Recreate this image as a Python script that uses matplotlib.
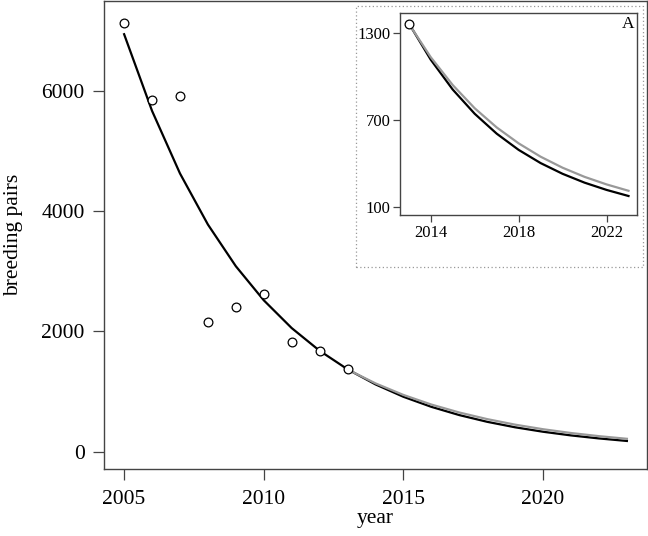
import matplotlib.pyplot as plt
from matplotlib.patches import Rectangle

plt.rcParams['font.family'] = ['Liberation Serif', 'DejaVu Serif']

# observed counts
obs_years = [2005, 2006, 2007, 2008, 2009, 2010, 2011, 2012, 2013]
obs_pairs = [7126, 5844, 5904, 2162, 2405, 2620, 1819, 1670, 1366]

# fitted trend (black) at each year
fit_years = list(range(2005, 2024))
fit_pairs = [6938, 5664, 4624, 3775, 3082, 2516, 2054, 1677, 1369, 1118,
             912, 745, 608, 496, 405, 331, 270, 220, 178]

# projection from 2013 (grey)
proj_years = list(range(2013, 2024))
proj_pairs = [1366, 1135, 943, 783, 651, 541, 449, 373, 310, 258, 214]

frame_col = '#444444'
grey = '#999999'

fig = plt.figure(figsize=(6.48, 5.36), dpi=100)

# main panel
ax = fig.add_axes([104/648, 67/536, 543/648, 468/536])
ax.plot(fit_years, fit_pairs, color='black', lw=1.6, zorder=2)
ax.plot(proj_years, proj_pairs, color=grey, lw=1.6, zorder=3)
ax.plot(obs_years, obs_pairs, 'o', mfc='white', mec='black', mew=0.9, ms=6.3, zorder=4)
ax.set_xlim(2004.28, 2023.72)
ax.set_ylim(-288, 7490)
ax.set_xticks([2005, 2010, 2015, 2020])
ax.set_yticks([0, 2000, 4000, 6000])
ax.tick_params(direction='out', length=8, width=0.9, color=frame_col,
               labelsize=15.5, pad=6)
ax.tick_params(axis='x', pad=7)
for s in ax.spines.values():
    s.set_color(frame_col)
    s.set_linewidth(1.0)
ax.set_xlabel('year', fontsize=15.5, labelpad=0)
ax.set_ylabel('breeding pairs', fontsize=15.5, labelpad=13)

# dotted box around inset
fig.patches.append(Rectangle((356/648, 269/536), 287/648, 261/536,
                             transform=fig.transFigure, fill=False,
                             ls=(0, (1, 2)), lw=0.9, ec=grey))

# inset panel
ins = fig.add_axes([400/648, 321/536, 237.3/648, 202.3/536])
ins.plot(proj_years, fit_pairs[8:], color='black', lw=1.6)
ins.plot(proj_years, proj_pairs, color=grey, lw=1.6)
ins.plot(obs_years[-1:], obs_pairs[-1:], 'o', mfc='white', mec='black', mew=0.9, ms=6.3)
ins.set_xlim(2012.6, 2023.4)
ins.set_ylim(47, 1442)
ins.set_xticks([2014, 2018, 2022])
ins.set_yticks([100, 700, 1300])
ins.tick_params(direction='out', length=5, width=0.9, color=frame_col,
                labelsize=12, pad=2)
for s in ins.spines.values():
    s.set_color(frame_col)
    s.set_linewidth(1.0)
ins.text(0.961, 0.944, 'A', transform=ins.transAxes, ha='center', va='center',
         fontsize=12.5)

fig.savefig('out.png', dpi=100)
